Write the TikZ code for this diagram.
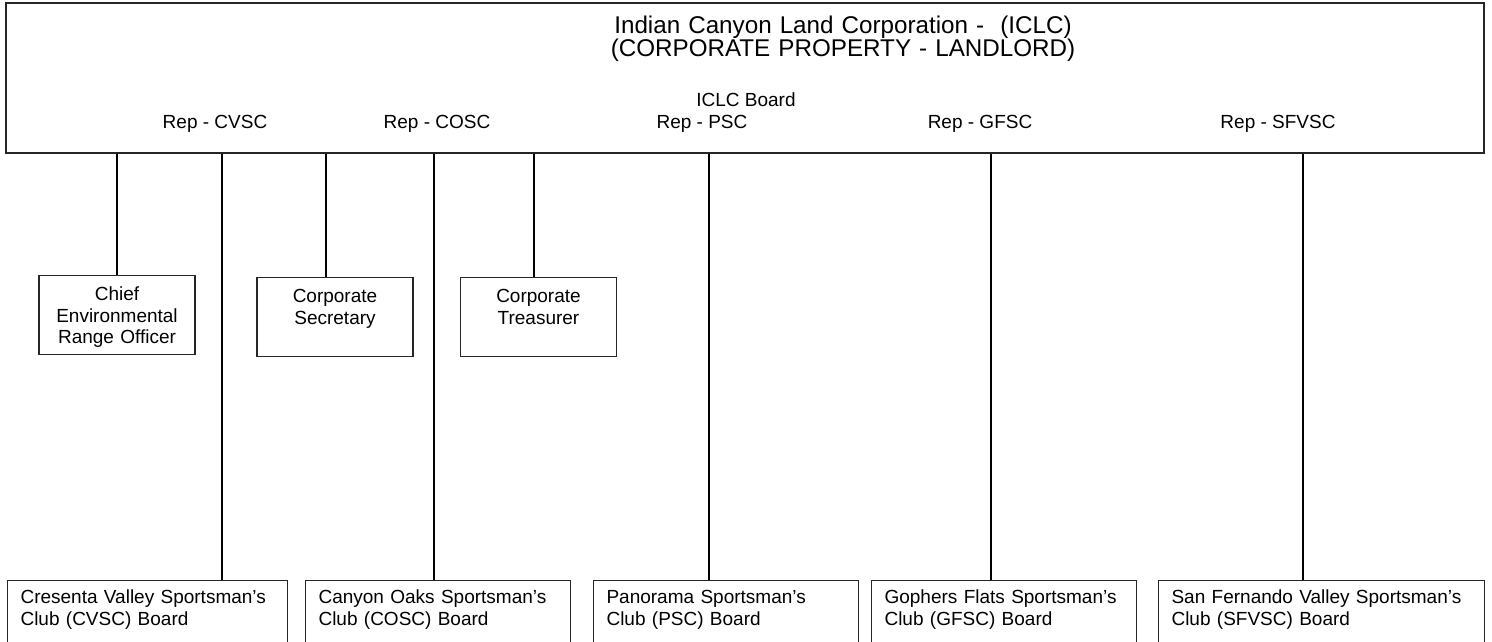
\documentclass[tikz,border=0pt]{standalone}
\usepackage{fontspec}
\setmainfont{Liberation Sans}
\begin{document}
\begin{tikzpicture}[x=1pt,y=-1pt,
    boxbase/.style={draw=black!85, line width=1.1pt, inner xsep=13pt, text height=14pt,
      font=\fontsize{19}{21.5}\selectfont},
    officebox/.style={boxbase, anchor=north, text width=130pt, align=center,
      inner ysep=11pt, text depth=42.5pt},
    clubbox/.style={boxbase, anchor=north west, align=left, inner ysep=9pt, text depth=80pt},
    reptext/.style={anchor=base, inner sep=0pt, font=\fontsize{19}{21.5}\selectfont},
    conn/.style={line width=1.7pt}]
    \useasboundingbox (0,0) rectangle (1492,641);

    % Corporation box
    \node[draw=black!85, line width=1.1pt, minimum width=1478pt, minimum height=150pt,
      inner sep=0pt] (iclc) at (745,78) {};
    \node[anchor=base, inner sep=0pt, text width=480pt, align=center,
      font=\fontsize{24.2}{22}\selectfont] (title) at (843,33)
      {Indian Canyon Land Corporation -\ \ (ICLC)\\(CORPORATE PROPERTY - LANDLORD)};
    \node[reptext] (board) at (746,106) {ICLC Board};
    \node[reptext] (repcvsc) at (215,128) {Rep - CVSC};
    \node[reptext] (repcosc) at (437,128) {Rep - COSC};
    \node[reptext] (reppsc) at (702,128) {Rep - PSC};
    \node[reptext] (repgfsc) at (980,128) {Rep - GFSC};
    \node[reptext] (repsfvsc) at (1278,128) {Rep - SFVSC};

    % Officers
    \node[officebox] (chief) at (117,275) {Chief\\Environmental\\Range Officer};
    \node[officebox] (secr) at (335,277) {Corporate\\Secretary};
    \node[officebox] (treas) at (538.5,277) {Corporate\\Treasurer};

    % Club boards
    \node[clubbox, text width=254pt] (cvsc) at (7,580) {Cresenta Valley Sportsman’s\\Club (CVSC) Board};
    \node[clubbox, text width=239pt] (cosc) at (305,580) {Canyon Oaks Sportsman’s\\Club (COSC) Board};
    \node[clubbox, text width=239pt] (psc) at (593,580) {Panorama Sportsman’s\\Club (PSC) Board};
    \node[clubbox, text width=239pt] (gfsc) at (871,580) {Gophers Flats Sportsman’s\\Club (GFSC) Board};
    \node[clubbox, text width=300pt] (sfvsc) at (1158,580) {San Fernando Valley Sportsman’s\\Club (SFVSC) Board};

    % Connectors
    \foreach \n/\x in {chief/117, cvsc/222, secr/326, cosc/434, treas/534, psc/709, gfsc/991, sfvsc/1303}
      \draw[conn] (iclc.south -| \x,0) -- (\n.north -| \x,0);
\end{tikzpicture}
\end{document}
